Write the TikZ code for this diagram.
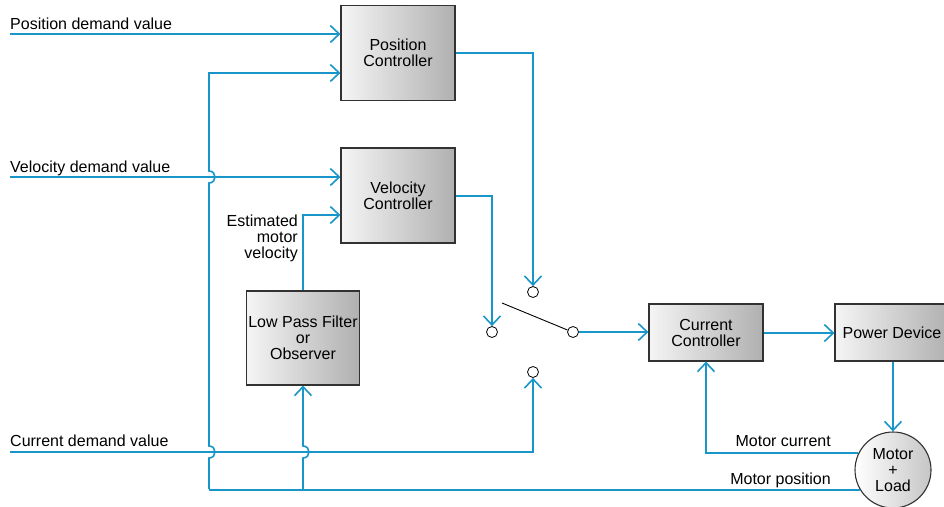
\documentclass[tikz,border=0pt]{standalone}
\usepackage{fontspec}
\setmainfont{Liberation Sans}
\usetikzlibrary{arrows.meta,calc}
\definecolor{flowblue}{RGB}{24,150,202}
\definecolor{boxedge}{RGB}{50,50,50}
\begin{document}
\begin{tikzpicture}[x=1pt,y=-1pt,
  every node/.style={font=\fontsize{16}{16}\selectfont},
  blockbox/.style={draw=boxedge,line width=1.1pt,left color=gray!8,right color=gray!62,
    minimum width=114pt,inner sep=0pt,align=center},
  contact/.style={circle,draw=black,line width=0.8pt,fill=white,minimum size=11pt,inner sep=0pt},
  flow/.style={draw=flowblue,line width=1.6pt,-{Straight Barb[length=9pt,width=17pt]}},
  wire/.style={draw=flowblue,line width=1.6pt},
  lbl/.style={inner sep=0pt}]
\clip (0,0) rectangle (944,506);
\useasboundingbox (0,0) rectangle (944,506);

% blocks
\node[blockbox,minimum height=95pt] (pc) at (398,53) {Position\\Controller};
\node[blockbox,minimum height=95pt] (vc) at (398,195.5) {Velocity\\Controller};
\node[blockbox,minimum width=113pt,minimum height=94pt] (lpf) at (303,338) {Low Pass Filter\\or\\Observer};
\node[blockbox,minimum height=57pt] (cc) at (706,332.5) {Current\\Controller};
\node[blockbox,minimum height=57pt] (pd) at (892,332.5) {Power Device};
\node[circle,draw=boxedge,line width=1.1pt,left color=white,right color=gray!45,
  minimum size=76pt,inner sep=0pt,align=center] (ml) at (893,470) {Motor\\+\\Load};

% switch contacts
\node[contact] (sp) at (533,292) {};
\node[contact] (sv) at (492,332) {};
\node[contact] (si) at (533,372) {};
\node[contact] (sw) at (573,332) {};
\draw[line width=0.9pt] (502,303) -- (sw.160);

% free ends and bends
\coordinate (pdv) at (10,34);
\coordinate (vdv) at (10,177);
\coordinate (cdv) at (10,452);
\coordinate (fb) at (209,73);
\coordinate (j2) at (209,489);
\coordinate (j1) at (303,489);

% labels
\node[lbl,anchor=base west] (lpdv) at (10,29) {Position demand value};
\node[lbl,anchor=base west] (lvdv) at (10,172) {Velocity demand value};
\node[lbl,anchor=base west] (lcdv) at (10,446) {Current demand value};
\node[lbl,anchor=east,align=right] (lemv) at (298,238) {Estimated\\motor\\velocity};
\node[lbl,anchor=base east] (lmc) at (831,446) {Motor current};
\node[lbl,anchor=base east] (lmp) at (831,484) {Motor position};

% connectors
\draw[flow] (pdv) -- (pdv -| pc.west);
\draw[flow] (vdv) -- (vdv -| vc.west);
\draw[flow] (lpf.north) -- (lpf.north |- 0,215) -- (vc.west |- 0,215);
\draw[flow] (pc.east) -- (pc.east -| sp) -- (sp.north);
\draw[flow] (vc.east |- 0,196) -- (sv.north |- 0,196) -- (sv.north);
\draw[flow] (cdv) -- (cdv -| si) -- (si.south);
\draw[flow] (sw.east) -- (cc.west |- sw.east);
\draw[flow] (cc.east |- 0,333) -- (pd.west |- 0,333);
\draw[flow] (pd.south -| ml.north) -- (ml.north);
\draw[flow] (ml.154) -- (ml.154 -| cc.south) -- (cc.south);
\draw[wire] (ml.211) -- (ml.211 -| j2);
\draw[flow] (j2) -- (209,458) .. controls (217,458) and (217,446) .. (209,446)
  -- (209,183) .. controls (217,183) and (217,171) .. (209,171)
  -- (fb) -- (pc.west |- fb);
\draw[flow] (j1) -- (303,458) .. controls (311,458) and (311,446) .. (303,446)
  -- (lpf.south);
\end{tikzpicture}
\end{document}
